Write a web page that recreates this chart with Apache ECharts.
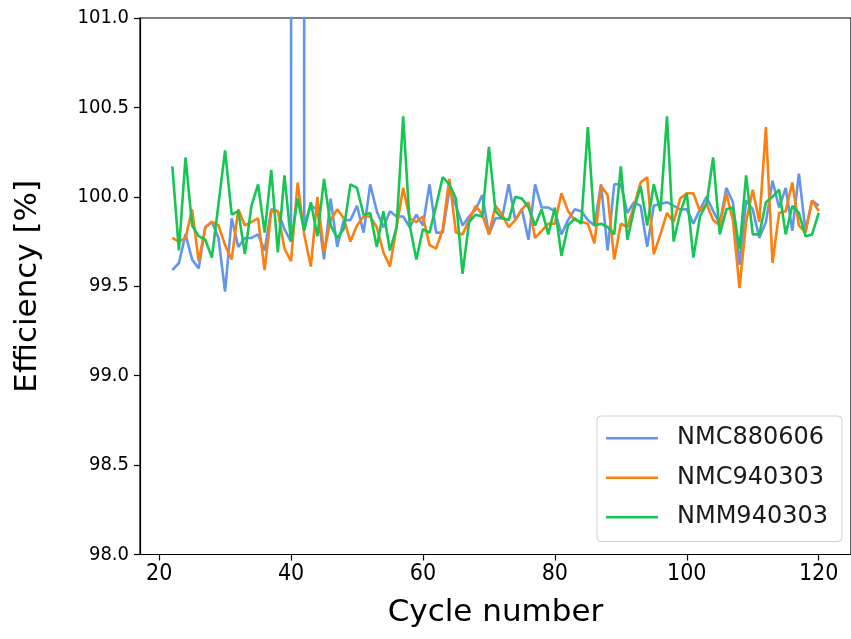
<!DOCTYPE html>
<html>
<head>
<meta charset="utf-8">
<script src="https://cdn.jsdelivr.net/npm/echarts@6/dist/echarts.min.js"></script>
<style>html,body{margin:0;padding:0;background:#fff}#c{width:851px;height:639px}</style>
</head>
<body>
<div id="c"></div>
<script>
const cycles = [22,23,24,25,26,27,28,29,30,31,32,33,34,35,36,37,38,39,40,41,42,43,44,45,46,47,48,49,50,51,52,53,54,55,56,57,58,59,60,61,62,63,64,65,66,67,68,69,70,71,72,73,74,75,76,77,78,79,80,81,82,83,84,85,86,87,88,89,90,91,92,93,94,95,96,97,98,99,100,101,102,103,104,105,106,107,108,109,110,111,112,113,114,115,116,117,118,119,120];
const nmc880606 = [99.59,99.63,99.79,99.65,99.60,99.83,99.86,99.77,99.47,99.88,99.72,99.77,99.77,99.79,99.70,99.93,99.92,99.82,99.75,250,99.84,99.95,99.93,99.65,99.99,99.72,99.87,99.87,99.95,99.80,100.07,99.92,99.83,99.92,99.89,99.89,99.83,99.90,99.84,100.07,99.80,99.80,100.04,99.95,99.84,99.89,99.93,100.01,99.79,99.88,99.88,100.07,99.87,99.93,99.76,100.07,99.94,99.94,99.92,99.79,99.87,99.93,99.92,99.87,99.84,100.07,99.70,100.07,100.07,99.91,99.97,99.95,99.72,99.95,99.96,99.97,99.95,99.93,99.93,99.85,99.93,100.00,99.92,99.85,100.05,99.97,99.62,99.98,99.93,99.77,99.86,100.09,99.94,100.05,99.81,100.13,99.81,99.98,99.95];
const nmc940303 = [99.77,99.75,99.77,99.93,99.64,99.83,99.86,99.84,99.73,99.65,99.93,99.84,99.86,99.88,99.59,99.92,99.92,99.71,99.64,100.08,99.79,99.61,100.00,99.69,99.87,99.93,99.88,99.75,99.84,99.89,99.89,99.83,99.69,99.61,99.83,100.05,99.88,99.86,99.89,99.73,99.71,99.82,100.10,99.80,99.79,99.87,99.95,99.90,99.79,99.95,99.90,99.83,99.87,99.93,99.97,99.77,99.81,99.85,99.85,100.02,99.92,99.87,99.86,99.85,99.74,100.06,100.01,99.65,99.85,99.83,99.95,100.08,100.11,99.68,99.79,99.91,99.86,99.99,100.02,100.02,99.92,99.96,99.87,99.84,100.02,99.87,99.49,99.86,100.04,99.86,100.39,99.63,99.91,99.92,100.08,99.84,99.80,99.98,99.92];
const nmm940303 = [100.17,99.70,100.22,99.84,99.78,99.76,99.66,99.96,100.26,99.90,99.92,99.68,99.95,100.07,99.80,100.15,99.69,100.12,99.75,99.99,99.81,99.97,99.78,100.10,99.84,99.77,99.82,100.07,100.05,99.90,99.91,99.72,99.92,99.70,99.83,100.45,99.84,99.65,99.82,99.80,99.95,100.11,100.07,99.99,99.57,99.86,99.90,99.89,100.28,99.92,99.88,99.87,100.00,99.99,99.94,99.84,99.93,99.79,99.94,99.67,99.84,99.88,99.85,100.39,99.84,99.85,99.83,99.79,100.17,99.76,99.93,100.06,99.84,100.07,99.92,100.45,99.75,99.91,100.02,99.66,99.89,99.96,100.22,99.79,99.93,99.94,99.71,100.12,99.79,99.79,99.97,100.00,100.04,99.79,99.95,99.91,99.78,99.79,99.91];
const xTicks = [20,40,60,80,100,120];
const seriesNames = ['NMC880606','NMC940303','NMM940303'];
const colors = ['#6495ED','#FF7F0E','#16C653'];

const font = 'DejaVu Sans';
const condensed = "'DejaVu Sans Condensed', 'DejaVu Sans'";
const chart = echarts.init(document.getElementById('c'), null, {renderer:'canvas'});
const mk = (name, vals, color) => ({
  name, type:'line', data: cycles.map((c,i)=>[c, vals[i]]),
  showSymbol:false, symbol:'none', clip:true,
  lineStyle:{color, width:2.6}, itemStyle:{color}
});
chart.setOption({
  animation:false,
  backgroundColor:'#fff',
  grid:{left:140, top:18, width:715, bottom:84.5, show:true, borderColor:'#000', borderWidth:1.2, backgroundColor:'transparent'},
  xAxis:{
    type:'value', min:17.1, max:124.9,
    name:'Cycle number', nameLocation:'middle', nameGap:43,
    nameTextStyle:{fontFamily:font, fontSize:31, color:'#000'},
    axisLine:{show:true, lineStyle:{color:'#000', width:1.2}},
    axisTick:{show:true, length:6, inside:false, customValues:xTicks, lineStyle:{color:'#000', width:1.2}},
    axisLabel:{customValues:xTicks, fontFamily:condensed, fontSize:23, color:'#000', margin:8},
    splitLine:{show:false}
  },
  yAxis:{
    type:'value', min:98, max:101, interval:0.5,
    name:'Efficiency [%]', nameLocation:'middle', nameGap:97,
    nameTextStyle:{fontFamily:font, fontSize:31, color:'#000'},
    axisLine:{show:true, lineStyle:{color:'#000', width:1.2}},
    axisTick:{show:true, length:6, inside:false, lineStyle:{color:'#000', width:1.2}},
    axisLabel:{fontFamily:condensed, fontSize:20, color:'#000', margin:11, formatter:v=>v.toFixed(1)},
    splitLine:{show:false}
  },
  legend:{
    orient:'vertical', left:597, top:416,
    data:seriesNames,
    icon:'rect', itemWidth:52, itemHeight:2.5, itemGap:15,
    padding:[10,14,12,9],
    backgroundColor:'#fff', borderColor:'#d0d0d0', borderWidth:1, borderRadius:4,
    textStyle:{fontFamily:font, fontSize:24, color:'#1a1a1a', lineHeight:24.5, padding:[0,0,0,14]}
  },
  series:[mk(seriesNames[0], nmc880606, colors[0]), mk(seriesNames[1], nmc940303, colors[1]), mk(seriesNames[2], nmm940303, colors[2])]
});
</script>
</body>
</html>
